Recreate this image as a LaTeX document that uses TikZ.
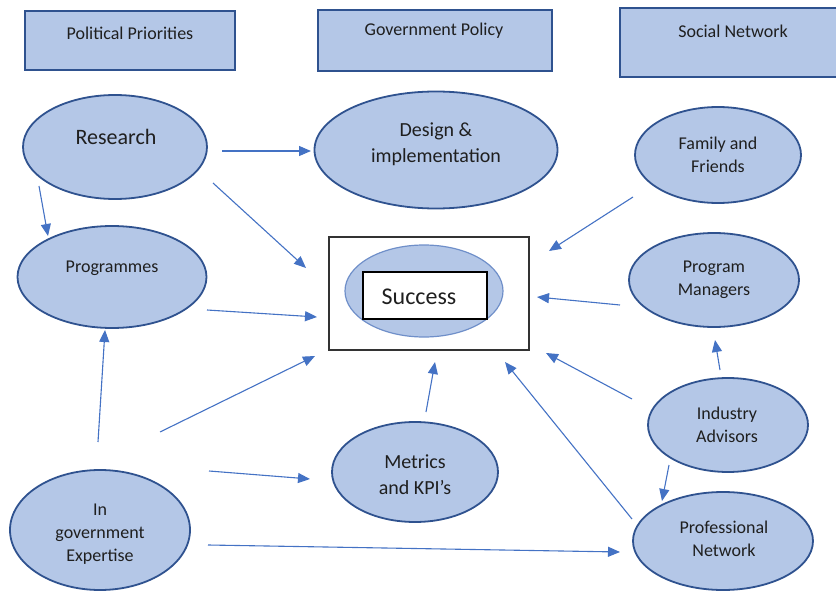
\documentclass[tikz,border=0pt]{standalone}
\usepackage{fontspec}
\setmainfont{Carlito}
\usetikzlibrary{arrows.meta,shapes.geometric}
\definecolor{boxfill}{HTML}{B4C7E7}
\definecolor{boxline}{HTML}{2F528F}
\definecolor{arrowblue}{HTML}{4472C4}
\definecolor{ringblue}{HTML}{6F8FC9}
\begin{document}
\begin{tikzpicture}[x=1pt,y=-1pt,
  header/.style={draw=boxline,fill=boxfill,line width=2pt,rectangle,inner sep=0pt},
  bubble/.style={draw=boxline,fill=boxfill,line width=1.8pt,ellipse,inner sep=0pt},
  txt/.style={font=\fontsize{18}{23}\selectfont,align=center,text=black!88,inner sep=0pt},
  link/.style={draw=arrowblue,line width=1.1pt,-{Triangle[length=12pt,width=10pt]}}
]
\useasboundingbox (0,0) rectangle (836,591);
\clip (0,0) rectangle (836,591);

% column headers
\node[header,minimum width=210pt,minimum height=59pt] (hpol) at (130,40.5) {};
\node[header,minimum width=234pt,minimum height=61pt] (hgov) at (435,40.5) {};
\node[header,minimum width=222pt,minimum height=69pt] (hsoc) at (731,42.5) {};
\node[txt] (hpolt) at (130,33) {Political Priorities};
\node[txt] (hgovt) at (434,31) {Government Policy};
\node[txt] (hsoct) at (733,31) {Social Network};

% bubbles
\node[bubble,minimum width=184pt,minimum height=104pt] (research) at (115,147) {};
\node[bubble,minimum width=243pt,minimum height=117pt] (design) at (436,150) {};
\node[bubble,minimum width=166pt,minimum height=96pt] (family) at (718,155) {};
\node[bubble,minimum width=189pt,minimum height=102pt] (programmes) at (112,277) {};
\node[bubble,minimum width=170pt,minimum height=94pt] (managers) at (714,280) {};
\node[bubble,minimum width=160pt,minimum height=94pt] (advisors) at (728,425) {};
\node[bubble,minimum width=166pt,minimum height=100pt] (metrics) at (415,472) {};
\node[bubble,minimum width=180pt,minimum height=120pt] (expertise) at (100,530) {};
\node[bubble,minimum width=180pt,minimum height=98pt] (network) at (723,541) {};

\node[txt,font=\fontsize{22}{26}\selectfont] (researcht) at (116,137) {Research};
\node[txt,font=\fontsize{20}{26}\selectfont] (designt) at (436,144) {Design \&\\implementation};
\node[txt] (familyt) at (718,155) {Family and\\Friends};
\node[txt] (programmest) at (112,268) {Programmes};
\node[txt] (managerst) at (714,280) {Program\\Managers};
\node[txt] (advisorst) at (727,425) {Industry\\Advisors};
\node[txt,font=\fontsize{20}{26}\selectfont] (metricst) at (415,475) {Metrics\\and KPI’s};
\node[txt] (expertiset) at (100,534) {In\\government\\Expertise};
\node[txt] (networkt) at (724,539) {Professional\\Network};

% central goal
\node[draw=black!80,line width=1.2pt,rectangle,inner sep=0pt,minimum width=200pt,minimum height=113pt] (goalbox) at (429,293.5) {};
\node[draw=ringblue,fill=boxfill,line width=1.2pt,ellipse,inner sep=0pt,minimum width=158pt,minimum height=92pt] (goalring) at (424,291) {};
\node[draw=black,fill=white,line width=1.2pt,rectangle,inner sep=0pt,minimum width=124pt,minimum height=47pt] (goalrect) at (425,295.5) {};
\node[txt,font=\fontsize{24}{28}\selectfont] (goalt) at (419,297) {Success};

% arrow end points
\coordinate (a1s) at (222,151);  \coordinate (a1e) at (311,151);
\coordinate (a2s) at (213,183);  \coordinate (a2e) at (306,268);
\coordinate (a3s) at (39,186);   \coordinate (a3e) at (48,236);
\coordinate (a4s) at (207,310);  \coordinate (a4e) at (317,317);
\coordinate (a5s) at (98,442);   \coordinate (a5e) at (105,330);
\coordinate (a6s) at (160,432);  \coordinate (a6e) at (315,356);
\coordinate (a7s) at (209,471);  \coordinate (a7e) at (310,479);
\coordinate (a8s) at (208,545);  \coordinate (a8e) at (620,552);
\coordinate (a9s) at (426,412);  \coordinate (a9e) at (435,362);
\coordinate (a10s) at (633,197); \coordinate (a10e) at (549,251);
\coordinate (a11s) at (620,305); \coordinate (a11e) at (537,297);
\coordinate (a12s) at (632,399); \coordinate (a12e) at (546,353);
\coordinate (a13s) at (632,519); \coordinate (a13e) at (505,362);
\coordinate (a14s) at (720,370); \coordinate (a14e) at (715,340);
\coordinate (a15s) at (669,465); \coordinate (a15e) at (662,501);

\foreach \i in {1,...,15} {\draw[link] (a\i s) -- (a\i e);}
\end{tikzpicture}
\end{document}
